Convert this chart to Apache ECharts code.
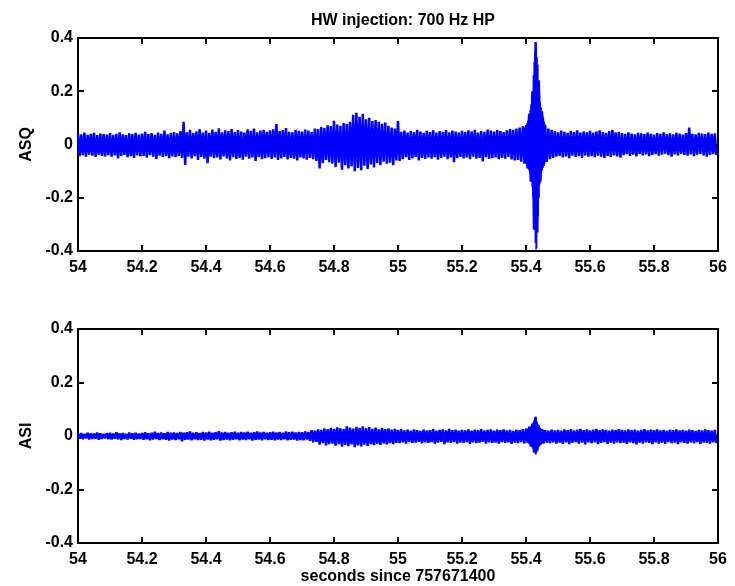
<!DOCTYPE html>
<html>
<head>
<meta charset="utf-8">
<script src="https://cdn.jsdelivr.net/npm/echarts@6/dist/echarts.min.js"></script>
<style>html,body{margin:0;padding:0;background:#fff;}#c{width:735px;height:586px;}</style>
</head>
<body>
<div id="c"></div>
<script>
// Sampled signal envelope: t0 = 54.00 s, step = 0.01 s; hi at t, lo at t + step/2
var tStart = 54.0;
var tStep = 0.01;
var xTicks = [54, 54.2, 54.4, 54.6, 54.8, 55, 55.2, 55.4, 55.6, 55.8, 56];
var yTicks = [-0.4, -0.2, 0, 0.2, 0.4];

var asqHi = [
0.042,0.038,0.045,0.036,0.040,0.044,0.035,0.041,0.039,0.037,
0.043,0.036,0.040,0.046,0.038,0.035,0.042,0.039,0.044,0.037,
0.041,0.048,0.039,0.043,0.036,0.045,0.040,0.052,0.038,0.044,
0.047,0.042,0.050,0.085,0.046,0.055,0.043,0.049,0.058,0.045,
0.052,0.044,0.056,0.048,0.061,0.046,0.053,0.050,0.058,0.047,
0.054,0.049,0.045,0.057,0.051,0.060,0.046,0.052,0.055,0.048,
0.053,0.057,0.077,0.050,0.054,0.062,0.048,0.046,0.055,0.051,
0.049,0.056,0.052,0.047,0.060,0.058,0.066,0.062,0.072,0.069,
0.089,0.075,0.070,0.081,0.078,0.085,0.112,0.119,0.104,0.115,
0.095,0.100,0.088,0.092,0.085,0.078,0.082,0.070,0.064,0.060,
0.088,0.048,0.052,0.045,0.050,0.046,0.055,0.049,0.044,0.051,
0.047,0.053,0.045,0.050,0.048,0.054,0.046,0.052,0.049,0.045,
0.051,0.047,0.053,0.049,0.055,0.045,0.050,0.048,0.056,0.052,
0.049,0.054,0.050,0.047,0.053,0.058,0.055,0.060,0.064,0.068,
0.072,0.115,0.200,0.385,0.240,0.125,0.072,0.060,0.055,0.050,
0.046,0.052,0.048,0.044,0.050,0.047,0.053,0.045,0.049,0.046,
0.051,0.045,0.049,0.053,0.047,0.044,0.050,0.055,0.046,0.048,
0.043,0.040,0.046,0.041,0.038,0.044,0.042,0.039,0.045,0.040,
0.037,0.043,0.040,0.046,0.039,0.042,0.038,0.044,0.041,0.037,
0.043,0.064,0.040,0.038,0.044,0.041,0.039,0.045,0.040,0.042
];
var asqLo = [
-0.044,-0.040,-0.046,-0.038,-0.042,-0.047,-0.039,-0.043,-0.045,-0.040,
-0.046,-0.041,-0.052,-0.043,-0.039,-0.048,-0.044,-0.050,-0.041,-0.045,
-0.043,-0.049,-0.040,-0.046,-0.054,-0.042,-0.047,-0.044,-0.051,-0.045,
-0.048,-0.043,-0.050,-0.077,-0.046,-0.052,-0.044,-0.058,-0.047,-0.053,
-0.070,-0.046,-0.051,-0.049,-0.056,-0.045,-0.052,-0.060,-0.048,-0.054,
-0.050,-0.057,-0.046,-0.053,-0.049,-0.062,-0.047,-0.055,-0.051,-0.048,
-0.054,-0.049,-0.058,-0.052,-0.047,-0.056,-0.050,-0.053,-0.060,-0.049,
-0.052,-0.057,-0.050,-0.055,-0.062,-0.090,-0.070,-0.058,-0.066,-0.072,
-0.085,-0.068,-0.095,-0.078,-0.090,-0.082,-0.100,-0.088,-0.097,-0.080,
-0.092,-0.075,-0.086,-0.070,-0.078,-0.065,-0.072,-0.068,-0.078,-0.060,
-0.062,-0.055,-0.048,-0.058,-0.052,-0.047,-0.060,-0.050,-0.054,-0.049,
-0.053,-0.048,-0.057,-0.050,-0.046,-0.055,-0.049,-0.066,-0.051,-0.047,
-0.052,-0.049,-0.055,-0.046,-0.053,-0.050,-0.064,-0.048,-0.054,-0.051,
-0.049,-0.055,-0.050,-0.053,-0.047,-0.056,-0.060,-0.058,-0.065,-0.072,
-0.090,-0.140,-0.320,-0.330,-0.140,-0.080,-0.065,-0.055,-0.050,-0.046,
-0.043,-0.049,-0.045,-0.051,-0.042,-0.047,-0.044,-0.050,-0.041,-0.046,
-0.044,-0.048,-0.042,-0.046,-0.050,-0.043,-0.047,-0.041,-0.045,-0.049,
-0.040,-0.036,-0.043,-0.038,-0.045,-0.035,-0.041,-0.037,-0.044,-0.039,
-0.036,-0.042,-0.038,-0.034,-0.040,-0.046,-0.037,-0.041,-0.035,-0.039,
-0.042,-0.037,-0.044,-0.038,-0.035,-0.041,-0.046,-0.039,-0.036,-0.040
];
// Finer sampling of the injection burst (t0 = 55.395 s, step = 0.0025 s)
var asqBurstStart = 55.395;
var burstStep = 0.0025;
var asqBurstHi = [
0.062,0.066,0.072,0.080,0.090,0.100,0.115,0.130,0.150,0.165,
0.200,0.260,0.310,0.350,0.385,0.375,0.330,0.300,0.240,0.190,
0.160,0.140,0.125,0.110,0.100,0.085,0.075
];
var asqBurstLo = [
-0.065,-0.070,-0.076,-0.083,-0.090,-0.098,-0.108,-0.120,-0.135,-0.160,
-0.200,-0.260,-0.320,-0.370,-0.410,-0.390,-0.330,-0.270,-0.200,-0.150,
-0.125,-0.110,-0.098,-0.088,-0.080,-0.072,-0.066
];

var asiHi = [
0.009,0.011,0.008,0.012,0.010,0.009,0.013,0.010,0.008,0.011,
0.012,0.009,0.014,0.010,0.011,0.008,0.013,0.010,0.012,0.009,
0.011,0.014,0.010,0.012,0.016,0.011,0.013,0.010,0.015,0.012,
0.013,0.011,0.015,0.012,0.014,0.017,0.012,0.014,0.011,0.015,
0.013,0.016,0.012,0.014,0.018,0.013,0.015,0.012,0.014,0.016,
0.012,0.015,0.013,0.016,0.012,0.014,0.017,0.013,0.015,0.012,
0.014,0.016,0.013,0.015,0.012,0.017,0.014,0.016,0.013,0.015,
0.014,0.017,0.015,0.022,0.020,0.025,0.023,0.028,0.026,0.030,
0.027,0.032,0.029,0.026,0.036,0.031,0.028,0.034,0.030,0.036,
0.029,0.033,0.027,0.031,0.025,0.030,0.026,0.028,0.024,0.027,
0.023,0.026,0.021,0.024,0.020,0.025,0.022,0.019,0.024,0.021,
0.022,0.026,0.020,0.023,0.025,0.021,0.027,0.022,0.024,0.020,
0.023,0.021,0.025,0.020,0.024,0.022,0.026,0.021,0.023,0.025,
0.020,0.024,0.022,0.025,0.021,0.023,0.019,0.024,0.022,0.026,
0.028,0.035,0.046,0.072,0.039,0.026,0.022,0.020,0.024,0.021,
0.023,0.020,0.025,0.022,0.026,0.021,0.024,0.027,0.022,0.025,
0.021,0.024,0.027,0.022,0.025,0.023,0.020,0.024,0.022,0.026,
0.023,0.021,0.025,0.022,0.024,0.020,0.023,0.026,0.021,0.024,
0.022,0.025,0.021,0.023,0.020,0.024,0.022,0.025,0.021,0.023,
0.020,0.024,0.022,0.019,0.023,0.021,0.025,0.022,0.020,0.023
];
var asiLo = [
-0.010,-0.012,-0.009,-0.013,-0.011,-0.010,-0.014,-0.011,-0.009,-0.012,
-0.013,-0.010,-0.012,-0.015,-0.011,-0.013,-0.010,-0.014,-0.012,-0.011,
-0.014,-0.012,-0.016,-0.013,-0.011,-0.015,-0.012,-0.014,-0.017,-0.013,
-0.015,-0.012,-0.020,-0.014,-0.013,-0.016,-0.012,-0.015,-0.014,-0.017,
-0.013,-0.016,-0.014,-0.012,-0.017,-0.015,-0.013,-0.016,-0.014,-0.012,
-0.016,-0.013,-0.015,-0.012,-0.017,-0.014,-0.013,-0.016,-0.012,-0.015,
-0.014,-0.016,-0.013,-0.015,-0.012,-0.016,-0.014,-0.013,-0.017,-0.015,
-0.016,-0.013,-0.018,-0.024,-0.022,-0.032,-0.027,-0.035,-0.030,-0.028,
-0.036,-0.030,-0.040,-0.033,-0.038,-0.031,-0.042,-0.035,-0.039,-0.032,
-0.037,-0.031,-0.034,-0.029,-0.033,-0.028,-0.031,-0.027,-0.030,-0.026,
-0.027,-0.024,-0.028,-0.023,-0.026,-0.025,-0.022,-0.027,-0.024,-0.026,
-0.023,-0.028,-0.025,-0.022,-0.030,-0.024,-0.026,-0.023,-0.028,-0.025,
-0.026,-0.023,-0.029,-0.024,-0.027,-0.025,-0.022,-0.028,-0.024,-0.026,
-0.025,-0.028,-0.023,-0.026,-0.024,-0.029,-0.025,-0.027,-0.023,-0.028,
-0.026,-0.039,-0.061,-0.055,-0.032,-0.028,-0.025,-0.027,-0.024,-0.028,
-0.025,-0.029,-0.024,-0.030,-0.026,-0.023,-0.028,-0.025,-0.031,-0.024,
-0.027,-0.024,-0.030,-0.026,-0.023,-0.029,-0.025,-0.028,-0.024,-0.027,
-0.025,-0.029,-0.024,-0.027,-0.031,-0.025,-0.028,-0.024,-0.026,-0.030,
-0.024,-0.028,-0.025,-0.029,-0.023,-0.027,-0.025,-0.030,-0.024,-0.026,
-0.028,-0.024,-0.027,-0.023,-0.029,-0.025,-0.026,-0.028,-0.024,-0.027
];
var asiBurstStart = 55.405;
var asiBurstHi = [
0.025,0.028,0.030,0.033,0.037,0.041,0.046,0.052,0.060,0.068,
0.072,0.062,0.053,0.045,0.039,0.034,0.030,0.027,0.025,0.023,0.022
];
var asiBurstLo = [
-0.026,-0.029,-0.032,-0.035,-0.039,-0.043,-0.048,-0.054,-0.061,-0.067,
-0.070,-0.063,-0.055,-0.047,-0.041,-0.036,-0.032,-0.029,-0.027,-0.025,-0.024
];

function build(start, step, hi, lo) {
  var out = [];
  for (var i = 0; i < hi.length; i++) {
    var t = start + i * step;
    out.push([+t.toFixed(5), hi[i]]);
    out.push([+(t + step / 2).toFixed(5), lo[i]]);
  }
  return out;
}

var FONT = "'Liberation Sans', Arial, Helvetica, sans-serif";
var BLACK = '#000';
var BOLD = 'bold';
var BLUE = '#0000ff';

function xAx(grid, pos, showLabel, name) {
  return {
    type: 'value', gridIndex: grid, position: pos,
    min: xTicks[0], max: xTicks[xTicks.length - 1], interval: 0.2,
    axisLine: { show: true, onZero: false, lineStyle: { color: BLACK, width: 2 } },
    axisTick: { show: true, inside: true, length: 6, lineStyle: { color: BLACK, width: 2 } },
    axisLabel: { show: showLabel, color: BLACK, fontSize: 16, fontWeight: BOLD, fontFamily: FONT, margin: 9 },
    splitLine: { show: false },
    name: name || '', nameLocation: 'middle', nameGap: 17,
    nameTextStyle: { color: BLACK, fontSize: 16, fontWeight: BOLD, fontFamily: FONT }
  };
}
function yAx(grid, pos, showLabel, name) {
  return {
    type: 'value', gridIndex: grid, position: pos,
    min: yTicks[0], max: yTicks[yTicks.length - 1], interval: 0.2,
    axisLine: { show: true, onZero: false, lineStyle: { color: BLACK, width: 2 } },
    axisTick: { show: true, inside: true, length: 6, lineStyle: { color: BLACK, width: 2 } },
    axisLabel: { show: showLabel, color: BLACK, fontSize: 16, fontWeight: BOLD, fontFamily: FONT, margin: 5 },
    splitLine: { show: false },
    name: name || '', nameLocation: 'middle', nameGap: 33, nameRotate: 90,
    nameTextStyle: { color: BLACK, fontSize: 16, fontWeight: BOLD, fontFamily: FONT }
  };
}
function lineSeries(xi, data, w) {
  return { type: 'line', xAxisIndex: xi, yAxisIndex: xi, data: data, showSymbol: false,
    lineStyle: { color: BLUE, width: w }, clip: true };
}

var chart = echarts.init(document.getElementById('c'), null, { renderer: 'canvas' });
chart.setOption({
  backgroundColor: '#fff',
  animation: false,
  title: {
    text: 'HW injection: 700 Hz HP', left: 398, top: 8, textAlign: 'center',
    textStyle: { color: BLACK, fontSize: 16, fontWeight: BOLD, fontFamily: FONT }
  },
  grid: [
    { left: 78, right: 17, top: 38, height: 213 },
    { left: 78, right: 17, top: 329, height: 214 }
  ],
  xAxis: [
    xAx(0, 'bottom', true), xAx(0, 'top', false),
    xAx(1, 'bottom', true, 'seconds since 757671400'), xAx(1, 'top', false)
  ],
  yAxis: [
    yAx(0, 'left', true, 'ASQ'), yAx(0, 'right', false),
    yAx(1, 'left', true, 'ASI'), yAx(1, 'right', false)
  ],
  series: [
    lineSeries(0, build(tStart, tStep, asqHi, asqLo), 2.5),
    lineSeries(0, build(asqBurstStart, burstStep, asqBurstHi, asqBurstLo), 1.2),
    lineSeries(2, build(tStart, tStep, asiHi, asiLo), 2.5),
    lineSeries(2, build(asiBurstStart, burstStep, asiBurstHi, asiBurstLo), 1.2)
  ]
});
</script>
</body>
</html>
